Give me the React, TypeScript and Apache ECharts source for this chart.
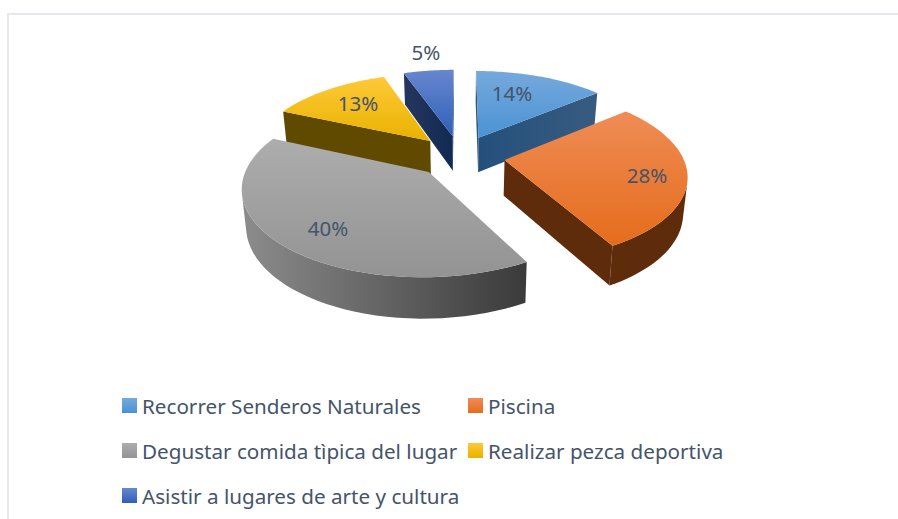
import React, { useEffect, useRef } from "react";
import * as echarts from "echarts";

const categories = [
  "Recorrer Senderos Naturales",
  "Piscina",
  "Degustar comida tìpica del lugar",
  "Realizar pezca deportiva",
  "Asistir a lugares de arte y cultura",
];
const values = [14, 28, 39.6, 13, 5.4];

// style and layout, per slice
const topColors = [
  ["#76a9dc", "#4a92d4"],
  ["#ef8c55", "#e56c1c"],
  ["#adadad", "#939393"],
  ["#ffc938", "#e8b200"],
  ["#6787cf", "#2f5fb8"],
];
const arcColors = [
  ["#24507c", "#385b80"],
  ["#5e2c0b", "#5e2c0b"],
  ["#8c8c8c", "#3a3a3a"],
  ["#5f4a00", "#5f4a00"],
  ["#1f3864", "#1f3864"],
];
const radialColors = [
  ["#24507c", "#385b80"],
  ["#5e2c0b", "#5e2c0b"],
  ["#8c8c8c", "#3a3a3a"],
  ["#5f4a00", "#5f4a00"],
  ["#25365e", "#112a52"],
];
const labelAnchors = [
  [512, 93],
  [647, 175],
  [328, 228],
  [358, 103],
  [426, 52],
];
const legendSlots = [
  [122, 395],
  [468, 395],
  [122, 440],
  [468, 440],
  [122, 485],
];
const paintOrder = [0, 4, 3, 1, 2];

const TEXT = "#44546a";
const FONT = "'Noto Sans', sans-serif";
const CX = 460, CY = 156, R = 178, EXPLODE = 45, TILT = 0.465, PERSP = 0.0009, DEPTH = 35.5, FLOOR = 0.98;

const total = values.reduce((a, b) => a + b, 0);
const starts: number[] = [];
values.reduce((acc, v, i) => {
  starts[i] = (acc / total) * 2 * Math.PI;
  return acc + v;
}, 0);

function project(u: number, v: number, z: number) {
  const w = 1 - v * PERSP;
  const s = z ? FLOOR : 1;
  return [CX + (u / w) * s, CY + ((v * TILT) / w) * s + (z ? DEPTH / w : 0)];
}

function grad(c: string[], horizontal: boolean) {
  return new echarts.graphic.LinearGradient(0, 0, horizontal ? 1 : 0, horizontal ? 0 : 1, [
    { offset: 0, color: c[0] },
    { offset: 1, color: c[1] },
  ]);
}

function faceVisible(a: number[], b: number[], c: number[], d: number[]) {
  const pts = [a, b, c, d];
  let s = 0;
  for (let i = 0; i < 4; i++) {
    const p = pts[i], q = pts[(i + 1) % 4];
    s += p[0] * q[1] - q[0] * p[1];
  }
  return s < 0;
}

function sliceChildren(i: number, value: number) {
  const a0 = starts[i];
  const a1 = a0 + (value / total) * 2 * Math.PI;
  const mid = (a0 + a1) / 2;
  const ou = EXPLODE * Math.sin(mid), ov = -EXPLODE * Math.cos(mid);
  const steps = 48;
  const plane: number[][] = [];
  for (let k = 0; k <= steps; k++) {
    const a = a0 + ((a1 - a0) * k) / steps;
    plane.push([ou + R * Math.sin(a), ov - R * Math.cos(a)]);
  }
  const top = plane.map((p) => project(p[0], p[1], 0));
  const bot = plane.map((p) => project(p[0], p[1], 1));
  const apexT = project(ou, ov, 0);
  const apexB = project(ou, ov, 1);
  const children: any[] = [];
  const poly = (points: number[][], fill: any) => ({
    type: "polygon",
    shape: { points },
    style: { fill, stroke: null },
  });
  if (faceVisible(apexT, top[0], bot[0], apexB)) {
    children.push(poly([apexT, top[0], bot[0], apexB], grad(radialColors[i], true)));
  }
  if (faceVisible(top[steps], apexT, apexB, bot[steps])) {
    children.push(poly([top[steps], apexT, apexB, bot[steps]], grad(radialColors[i], true)));
  }
  const t: number[][] = [], b: number[][] = [];
  for (let k = 0; k < steps; k++) {
    if (faceVisible(top[k], top[k + 1], bot[k + 1], bot[k])) {
      if (!t.length) { t.push(top[k]); b.push(bot[k]); }
      t.push(top[k + 1]);
      b.push(bot[k + 1]);
    }
  }
  if (t.length) {
    children.push(poly(t.concat(b.slice().reverse()), grad(arcColors[i], true)));
  }
  children.push(poly([apexT, ...top], grad(topColors[i], false)));
  children.push({
    type: "text",
    z2: 10,
    style: {
      text: Math.round((value / total) * 100) + "%",
      x: labelAnchors[i][0],
      y: labelAnchors[i][1],
      fill: TEXT,
      font: "20.5px " + FONT,
      align: "center",
      verticalAlign: "middle",
    },
  });
  return children;
}

export default function App() {
  const ref = useRef<HTMLDivElement>(null);
  useEffect(() => {
    const chart = echarts.init(ref.current!, undefined, { renderer: "svg" });
    chart.setOption({
      animation: false,
      backgroundColor: "#ffffff",
      legend: categories.map((name, i) => ({
        data: [name],
        left: legendSlots[i][0],
        top: legendSlots[i][1],
        padding: 0,
        itemWidth: 15,
        itemHeight: 15,
        itemGap: 0,
        selectedMode: false,
        icon: "rect",
        textStyle: { color: TEXT, fontSize: 20.65, fontFamily: FONT },
      })),
      graphic: [
        { type: "line", shape: { x1: 7, y1: 14, x2: 898, y2: 14 }, style: { stroke: "#e6e9ec", lineWidth: 2 } },
        { type: "line", shape: { x1: 8, y1: 14, x2: 8, y2: 519 }, style: { stroke: "#e6e9ec", lineWidth: 2 } },
      ],
      series: paintOrder.map((i) => ({
        type: "custom",
        name: categories[i],
        coordinateSystem: "none",
        data: [[values[i]]],
        itemStyle: { color: grad(topColors[i], false) },
        renderItem: (_p: any, api: any) => ({
          type: "group",
          children: sliceChildren(i, api.value(0)),
        }),
      })),
    });
    return () => chart.dispose();
  }, []);
  return <div ref={ref} style={{ position: "absolute", left: 0, top: 0, width: 898, height: 519 }} />;
}
